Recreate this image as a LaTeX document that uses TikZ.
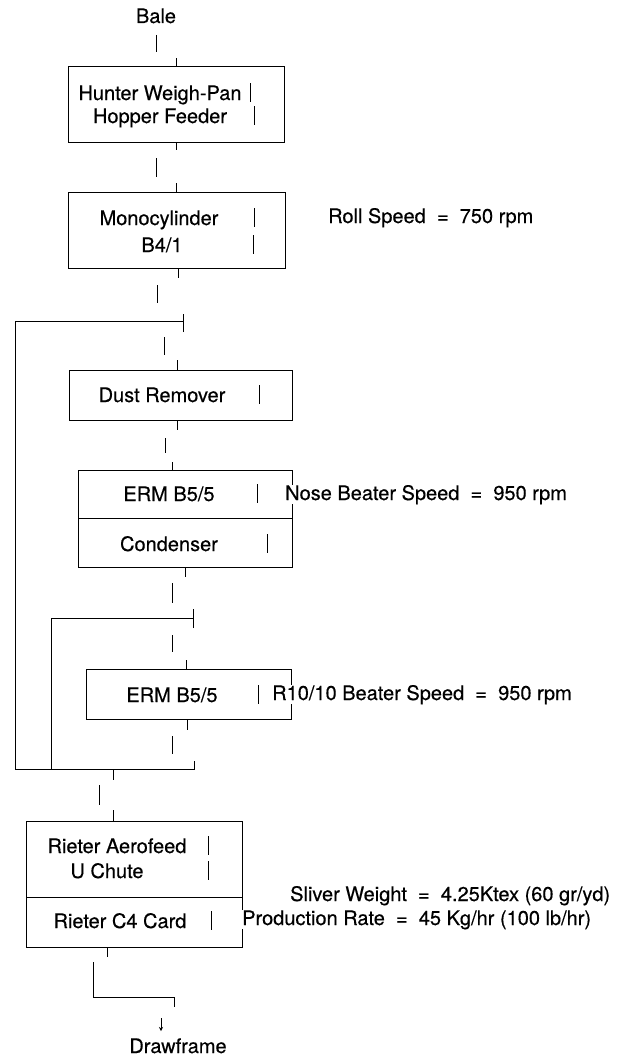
\documentclass[tikz,border=0pt]{standalone}
\usepackage{fontspec}
\setmainfont{TeX Gyre Heros}
\newfontfamily\heavyfont[FakeBold=0.4]{TeX Gyre Heros}
\usetikzlibrary{arrows.meta}
\newcommand\vbarmark[2]{\draw[ln] (#1,#2-17) -- (#1,#2+2);}
\begin{document}
\begin{tikzpicture}[x=1pt,y=-1pt,
  ln/.style={line width=1pt},
  box/.style={draw, line width=1pt, inner sep=0pt, outer sep=0pt},
  txt/.style={inner sep=0pt, anchor=base, font=\heavyfont\fontsize{20}{24}\selectfont},
  lbl/.style={inner sep=0pt, anchor=base west, fill=white, font=\heavyfont\fontsize{20}{24}\selectfont}]
\useasboundingbox (0,0) rectangle (630,1057);
% boxes
\node[box, minimum width=216pt, minimum height=75pt] (hunter) at (176,104.5) {};
\node[box, minimum width=217pt, minimum height=76pt] (mono) at (176.5,230) {};
\node[box, minimum width=223pt, minimum height=50pt] (dust) at (180.5,395) {};
\node[box, minimum width=214pt, minimum height=97pt] (erma) at (185,518.5) {};
\node[box, minimum width=205pt, minimum height=50pt] (ermb) at (188.5,694) {};
\node[box, minimum width=216pt, minimum height=126pt] (rieter) at (134,884) {};
\draw[ln] (erma.west) -- (erma.east);
\draw[ln] (rieter.west |- 0,897) -- (rieter.east |- 0,897);
% texts
\node[txt] (bale) at (156,23) {Bale};
\node[txt] (t1a) at (160,100) {Hunter Weigh-Pan};
\node[txt] (t1b) at (160,123) {Hopper Feeder};
\node[txt] (t2a) at (159,225) {Monocylinder};
\node[txt] (t2b) at (162,252) {B4/1};
\node[txt] (t3) at (162,402) {Dust Remover};
\node[txt] (t4a) at (169,501) {ERM B5/5};
\node[txt] (t4b) at (169,551) {Condenser};
\node[txt] (t5) at (172,702) {ERM B5/5};
\node[txt] (t6a) at (117,853) {Rieter Aerofeed};
\node[txt] (t6b) at (107,878) {U Chute};
\node[txt] (t6c) at (120,928) {Rieter C4 Card};
\node[txt] (draw) at (178,1053) {Drawframe};
\node[lbl] (roll) at (328,223) {Roll Speed \ = \ 750 rpm};
\node[lbl] (nose) at (285,500) {Nose Beater Speed \ = \ 950 rpm};
\node[lbl] (r10) at (272,700) {R10/10 Beater Speed \ = \ 950 rpm};
\node[lbl] (sliver) at (290,901) {Sliver Weight \ = \ 4.25Ktex (60 gr/yd)};
\node[lbl] (prod) at (242,925) {Production Rate \ = \ 45 Kg/hr (100 lb/hr)};
% bars inside boxes
\vbarmark{250}{100}\vbarmark{254}{123}
\vbarmark{254}{225}\vbarmark{253}{252}
\vbarmark{259}{402}
\vbarmark{257}{501}\vbarmark{267}{551}
\vbarmark{258}{702}
\vbarmark{208}{853}\vbarmark{208}{878}\vbarmark{211}{928}
% junction coordinates
\coordinate (ja) at (183,321);
\coordinate (jb) at (193,618);
\coordinate (jc) at (194,769);
% connectors
\draw[ln] (156,35) -- (156,52);
\draw[ln] (hunter.north) -- ++(0,-9);
\draw[ln] (hunter.south) -- ++(0,8);
\draw[ln] (156,158) -- (156,177);
\draw[ln] (mono.north) -- ++(0,-9);
\draw[ln] ([xshift=1.5pt]mono.south) -- ++(0,10);
\draw[ln] (157,285) -- (157,303);
\draw[ln] (ja) -- (15,321) -- (15,769) -- (jc) -- ++(0,-8);
\draw[ln] ([yshift=-11pt]ja) -- ([yshift=7pt]ja);
\draw[ln] (164,337) -- (164,355);
\draw[ln] ([xshift=-3.5pt]dust.north) -- ++(0,-10);
\draw[ln] ([xshift=-3.5pt]dust.south) -- ++(0,10);
\draw[ln] (165,438) -- (165,453);
\draw[ln] ([xshift=-13pt]erma.north) -- ++(0,-8);
\draw[ln] (erma.south) -- ++(0,10);
\draw[ln] (172,583) -- (172,603);
\draw[ln] (jb) -- (51,618) -- (51,769);
\draw[ln] ([yshift=-10pt]jb) -- ([yshift=9pt]jb);
\draw[ln] (172,635) -- (172,652);
\draw[ln] ([xshift=-2.5pt]ermb.north) -- ++(0,-9);
\draw[ln] ([xshift=-1.5pt]ermb.south) -- ++(0,11);
\draw[ln] (172,736) -- (172,754);
\draw[ln] (113,769) -- (113,780);
\draw[ln] (99,785) -- (99,805);
\draw[ln] ([xshift=-21pt]rieter.north) -- ++(0,-11);
\draw[ln] ([xshift=-27pt]rieter.south) -- ++(0,10);
\draw[ln] (93,962) -- (93,997) -- (174,997) -- (174,1007);
\draw[ln, -{Stealth[length=4pt,width=4pt]}] (161,1018) -- (161,1031);
\end{tikzpicture}
\end{document}
